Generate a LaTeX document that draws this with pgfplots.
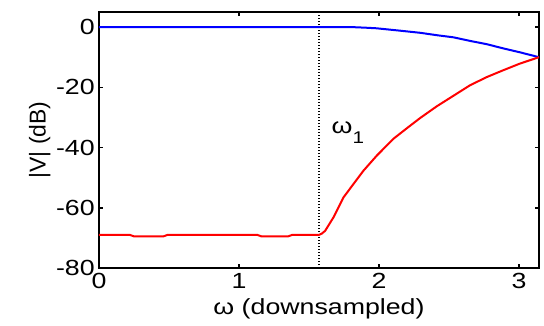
\documentclass[border=0pt]{standalone}
\usepackage{pgfplots}
\pgfplotsset{compat=1.18}
\usepackage{fontspec}
\setmainfont{Liberation Sans}
\begin{document}
\begin{tikzpicture}
\begin{axis}[
  scale only axis,
  width=440bp, height=256bp,
  xmin=0, xmax=3.14159,
  ymin=-80, ymax=5,
  xtick={0,1,2,3}, xticklabels={0,1,2,3},
  ytick={-80,-60,-40,-20,0}, yticklabels={-80,-60,-40,-20,0},
  xtick pos=both, ytick pos=both,
  xticklabel pos=bottom, yticklabel pos=left,
  tick align=inside,
  major tick length=4bp,
  every tick/.style={black, line width=1.5bp},
  axis line style={black, line width=2bp},
  tick label style={font=\fontsize{22}{26}\selectfont, xscale=1.22},
  xticklabel style={yshift=-2bp},
  xlabel={ω (downsampled)},
  ylabel={|V| (dB)},
  xlabel style={font=\fontsize{22}{26}\selectfont, xscale=1.22, yshift=-3bp},
  ylabel style={font=\fontsize{23}{26}\selectfont, yshift=-2bp},
  clip=true,
]
\addplot[black, line width=1.6bp, dash pattern=on 1.5bp off 1.5bp] coordinates {(1.5708,-80) (1.5708,5)};
\addplot[blue, line width=2bp] table {
0 0
1.80 0
1.90 -0.2
1.98 -0.4
2.15 -1.2
2.293 -1.9
2.412 -2.7
2.53 -3.4
2.65 -4.6
2.77 -5.7
2.888 -7.1
3.007 -8.4
3.1416 -10
};
\addplot[red, line width=2bp] table {
0 -69
0.22 -69
0.25 -69.5
0.46 -69.5
0.49 -69
1.13 -69
1.16 -69.5
1.35 -69.5
1.38 -69
1.5708 -69
1.59 -68.6
1.614 -67.7
1.674 -63.2
1.745 -56.6
1.817 -52.1
1.888 -47.7
1.983 -42.7
2.102 -37.1
2.198 -33.6
2.293 -30.2
2.412 -26.3
2.531 -22.8
2.65 -19.3
2.769 -16.6
2.888 -14.3
3.007 -12.1
3.1416 -10
};
\node[anchor=base west, inner sep=0pt, font=\fontsize{22}{26}\selectfont, xscale=1.22] at (axis cs:1.66,-35.3) {ω\raisebox{-0.44em}{\fontsize{17}{17}\selectfont 1}};
\end{axis}
\path (current axis.south west) ++(-99bp,-58bp) rectangle ++(544bp,326bp);
\end{tikzpicture}
\end{document}
